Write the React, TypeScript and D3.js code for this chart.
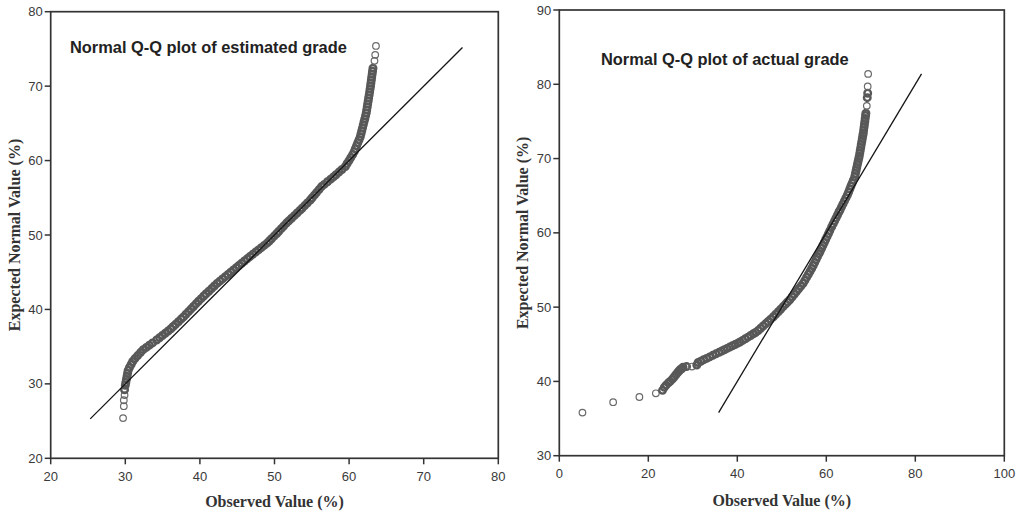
import React from "react";
import * as d3 from "d3";

// ---------- Left panel: estimated grade ----------
const estXTicks = [20, 30, 40, 50, 60, 70, 80];
const estYTicks = [20, 30, 40, 50, 60, 70, 80];
const estRefLine = [25.3, 75.2];
const estObserved = [
  29.7, 29.8, 29.8, 29.9, 29.9,
  30.0, 30.07, 30.15, 30.23, 30.3, 30.38, 30.56, 30.78, 30.99, 31.29, 31.66, 32.03, 32.4,
  32.82, 33.23, 33.65, 34.2, 34.59, 34.97, 35.36, 35.74, 36.11,
  36.42, 36.74, 37.11, 37.48, 37.8, 38.13, 38.47, 38.8, 39.14, 39.47, 39.81, 40.16, 40.52, 40.83,
  41.2, 41.57, 41.93, 42.3, 42.67, 43.03, 43.4, 43.77, 44.13, 44.5, 44.87, 45.23, 45.6, 45.97,
  46.33, 46.7, 47.08, 47.47, 47.85, 48.23, 48.62, 49.0,
  49.3, 49.6, 49.95, 50.3, 50.58, 50.9, 51.23, 51.6, 51.92, 52.29, 52.66, 53.03, 53.4, 53.7,
  54.05, 54.4, 54.8, 55.05, 55.34, 55.63, 55.97, 56.3, 56.67, 57.1, 57.53, 57.9, 58.24, 58.64,
  59.04, 59.5,
  59.74, 59.99, 60.23, 60.48, 60.68, 60.84, 61.01, 61.17, 61.34, 61.5, 61.6, 61.7, 61.8, 61.9,
  62.0, 62.1, 62.2, 62.3, 62.36, 62.43, 62.49, 62.56, 62.62, 62.69, 62.75, 62.81, 62.87, 62.92,
  62.98, 63.03, 63.09, 63.14, 63.2,
  63.4, 63.5, 63.6,
];
const estExpected = [
  25.4, 27.0, 27.8, 28.5, 29.2,
  29.8, 30.2, 30.6, 31.0, 31.4, 31.8, 32.2, 32.6, 33.0, 33.4, 33.8, 34.2, 34.6,
  34.9, 35.2, 35.5, 35.9, 36.2, 36.5, 36.8, 37.1, 37.4,
  37.7, 38.0, 38.35, 38.7, 39.0, 39.35, 39.7, 40.05, 40.4, 40.75, 41.1, 41.45, 41.8, 42.1,
  42.45, 42.8, 43.15, 43.5, 43.8, 44.1, 44.4, 44.7, 45.0, 45.3, 45.6, 45.9, 46.2, 46.5,
  46.8, 47.1, 47.4, 47.7, 48.0, 48.3, 48.6, 48.9,
  49.2, 49.5, 49.85, 50.2, 50.5, 50.85, 51.2, 51.6, 51.9, 52.25, 52.6, 52.95, 53.3, 53.6,
  53.95, 54.3, 54.7, 55.0, 55.35, 55.7, 56.1, 56.5, 56.8, 57.15, 57.5, 57.8, 58.1, 58.45,
  58.8, 59.2,
  59.6, 60.0, 60.4, 60.8, 61.2, 61.6, 62.0, 62.4, 62.8, 63.2, 63.6, 64.0, 64.4, 64.8,
  65.2, 65.6, 66.0, 66.4, 66.8, 67.2, 67.6, 68.0, 68.4, 68.8, 69.2, 69.6, 70.0, 70.4,
  70.8, 71.2, 71.6, 72.0, 72.4,
  73.4, 74.2, 75.4,
];

// ---------- Right panel: actual grade ----------
const actXTicks = [0, 20, 40, 60, 80, 100];
const actYTicks = [30, 40, 50, 60, 70, 80, 90];
const actRefLine = [35.8, 81.4];
const actObserved = [
  5.2, 12.1, 18.0, 21.7, 23.2, 23.6, 24.0, 24.5, 24.9, 25.4, 25.8, 26.2, 26.6, 26.9, 27.2, 27.5,
  27.8, 28.6, 29.8, 30.9,
  31.2, 31.8, 32.4, 33.1, 33.8, 34.5, 35.2, 35.9, 36.5, 37.1, 37.7, 38.3, 38.9, 39.5, 40.1,
  40.6, 41.2, 41.8, 42.4, 43.0, 43.6, 44.1,
  44.7, 45.25, 45.8, 46.35, 46.9, 47.5, 48.1, 48.65, 49.2, 49.75, 50.3, 50.85, 51.3, 51.8,
  52.3, 52.8, 53.3, 53.8, 54.3, 54.8,
  55.18, 55.56, 55.95, 56.33, 56.71, 57.06, 57.38, 57.71, 58.03, 58.36, 58.6, 58.92, 59.23,
  59.55, 59.86, 60.17, 60.49, 60.8, 61.2, 61.53, 61.86, 62.19, 62.52, 62.85, 63.1, 63.43,
  63.75, 64.08, 64.41, 64.74, 65.03, 65.29, 65.55, 65.81, 66.08, 66.4, 66.55, 66.7, 66.84,
  66.99, 67.14, 67.29, 67.4, 67.52, 67.63, 67.75, 67.86, 67.98, 68.1, 68.21, 68.3, 68.39,
  68.48, 68.57, 68.66, 68.74, 68.83, 68.9,
  69.1, 69.2, 69.3, 69.3, 69.4,
];
const actExpected = [
  35.8, 37.2, 37.9, 38.4, 38.8, 39.2, 39.5, 39.8, 40.0, 40.3, 40.6, 40.9, 41.2, 41.4, 41.6, 41.7,
  41.9, 42.0, 42.0, 42.2,
  42.55, 42.72, 42.9, 43.1, 43.3, 43.51, 43.71, 43.91, 44.08, 44.26, 44.44, 44.62, 44.79, 44.97,
  45.15, 45.3, 45.52, 45.74, 45.96, 46.18, 46.41, 46.59,
  46.86, 47.16, 47.46, 47.75, 48.05, 48.38, 48.7, 49.04, 49.38, 49.72, 50.07, 50.41, 50.69, 51.0,
  51.37, 51.73, 52.1, 52.47, 52.83, 53.2,
  53.6, 54.0, 54.4, 54.8, 55.2, 55.6, 56.0, 56.4, 56.8, 57.2, 57.5, 57.9, 58.3,
  58.7, 59.1, 59.5, 59.9, 60.3, 60.8, 61.2, 61.6, 62.0, 62.4, 62.8, 63.1, 63.5,
  63.9, 64.3, 64.7, 65.1, 65.5, 65.9, 66.3, 66.7, 67.1, 67.6, 68.0, 68.4, 68.8,
  69.2, 69.6, 70.0, 70.3, 70.7, 71.1, 71.5, 71.9, 72.3, 72.7, 73.1, 73.4, 73.8,
  74.2, 74.6, 75.0, 75.4, 75.8, 76.1,
  77.1, 78.2, 78.8, 79.7, 81.4,
];

const AXIS_TITLE_FONT = "'Liberation Serif', 'Times New Roman', serif";
const SANS = "'Liberation Sans', Arial, sans-serif";

type PanelProps = {
  left: number; right: number; top: number; bottom: number;
  xTicks: number[]; yTicks: number[];
  observed: number[]; expected: number[];
  refLine: number[];
  title: string; titleX: number; titleY: number;
  yTitleX: number; xTitleY: number;
};

function Panel(p: PanelProps) {
  const x = d3.scaleLinear().domain([p.xTicks[0], p.xTicks[p.xTicks.length - 1]]).range([p.left, p.right]);
  const y = d3.scaleLinear().domain([p.yTicks[0], p.yTicks[p.yTicks.length - 1]]).range([p.bottom, p.top]);
  const line = d3.line<number>().x((v) => x(v)).y((v) => y(v));
  const pix = p.observed.map((o, i) => [x(o), y(p.expected[i])]);
  // points packed closely together render as the heavy overplotted band
  const dense = pix.map((a, i) =>
    pix.some((b, j) => j !== i && Math.hypot(a[0] - b[0], a[1] - b[1]) < 5)
  );
  return (
    <g>
      {pix.map((d, i) => (
        <circle key={i} cx={d[0]} cy={d[1]} r={3.3} fill="none"
          stroke={dense[i] ? "#585858" : "#6a6a6a"} strokeWidth={dense[i] ? 2.4 : 1.2} />
      ))}
      <path d={line(p.refLine) || ""} stroke="#151515" strokeWidth={1.3} fill="none" />
      <rect x={p.left} y={p.top} width={p.right - p.left} height={p.bottom - p.top} fill="none" stroke="#333" strokeWidth={1.7} />
      {p.xTicks.map((t) => (
        <g key={"x" + t}>
          <line x1={x(t)} x2={x(t)} y1={p.bottom} y2={p.bottom + 6} stroke="#333" strokeWidth={1.5} />
          <text x={x(t)} y={p.bottom + 18} textAnchor="middle" dominantBaseline="central" fontFamily={SANS} fontSize={13} fill="#3a3a3a">{t}</text>
        </g>
      ))}
      {p.yTicks.map((t) => (
        <g key={"y" + t}>
          <line x1={p.left - 6} x2={p.left} y1={y(t)} y2={y(t)} stroke="#333" strokeWidth={1.5} />
          <text x={p.left - 8} y={y(t)} textAnchor="end" dominantBaseline="central" fontFamily={SANS} fontSize={13} fill="#3a3a3a">{t}</text>
        </g>
      ))}
      <text x={p.titleX} y={p.titleY} fontFamily={SANS} fontWeight="bold" fontSize={16.4} fill="#222">{p.title}</text>
      <text x={(p.left + p.right) / 2} y={p.xTitleY} textAnchor="middle" fontFamily={AXIS_TITLE_FONT} fontWeight="bold" fontSize={16} fill="#333">Observed Value (%)</text>
      <text transform={`translate(${p.yTitleX},${(p.top + p.bottom) / 2}) rotate(-90)`} textAnchor="middle" dominantBaseline="central" fontFamily={AXIS_TITLE_FONT} fontWeight="bold" fontSize={16} fill="#333">Expected Normal Value (%)</text>
    </g>
  );
}

export default function App() {
  return (
    <svg width={1021} height={515} style={{ position: "absolute", left: 0, top: 0, background: "#fff" }}>
      <rect width={1021} height={515} fill="#fff" />
      <Panel left={50.7} right={498.3} top={11.7} bottom={458.3}
        xTicks={estXTicks} yTicks={estYTicks}
        observed={estObserved} expected={estExpected} refLine={estRefLine}
        title="Normal Q-Q plot of estimated grade" titleX={70} titleY={53}
        yTitleX={14} xTitleY={507} />
      <Panel left={559.3} right={1004.3} top={10} bottom={455.7}
        xTicks={actXTicks} yTicks={actYTicks}
        observed={actObserved} expected={actExpected} refLine={actRefLine}
        title="Normal Q-Q plot of actual grade" titleX={601} titleY={65}
        yTitleX={522} xTitleY={506} />
    </svg>
  );
}
